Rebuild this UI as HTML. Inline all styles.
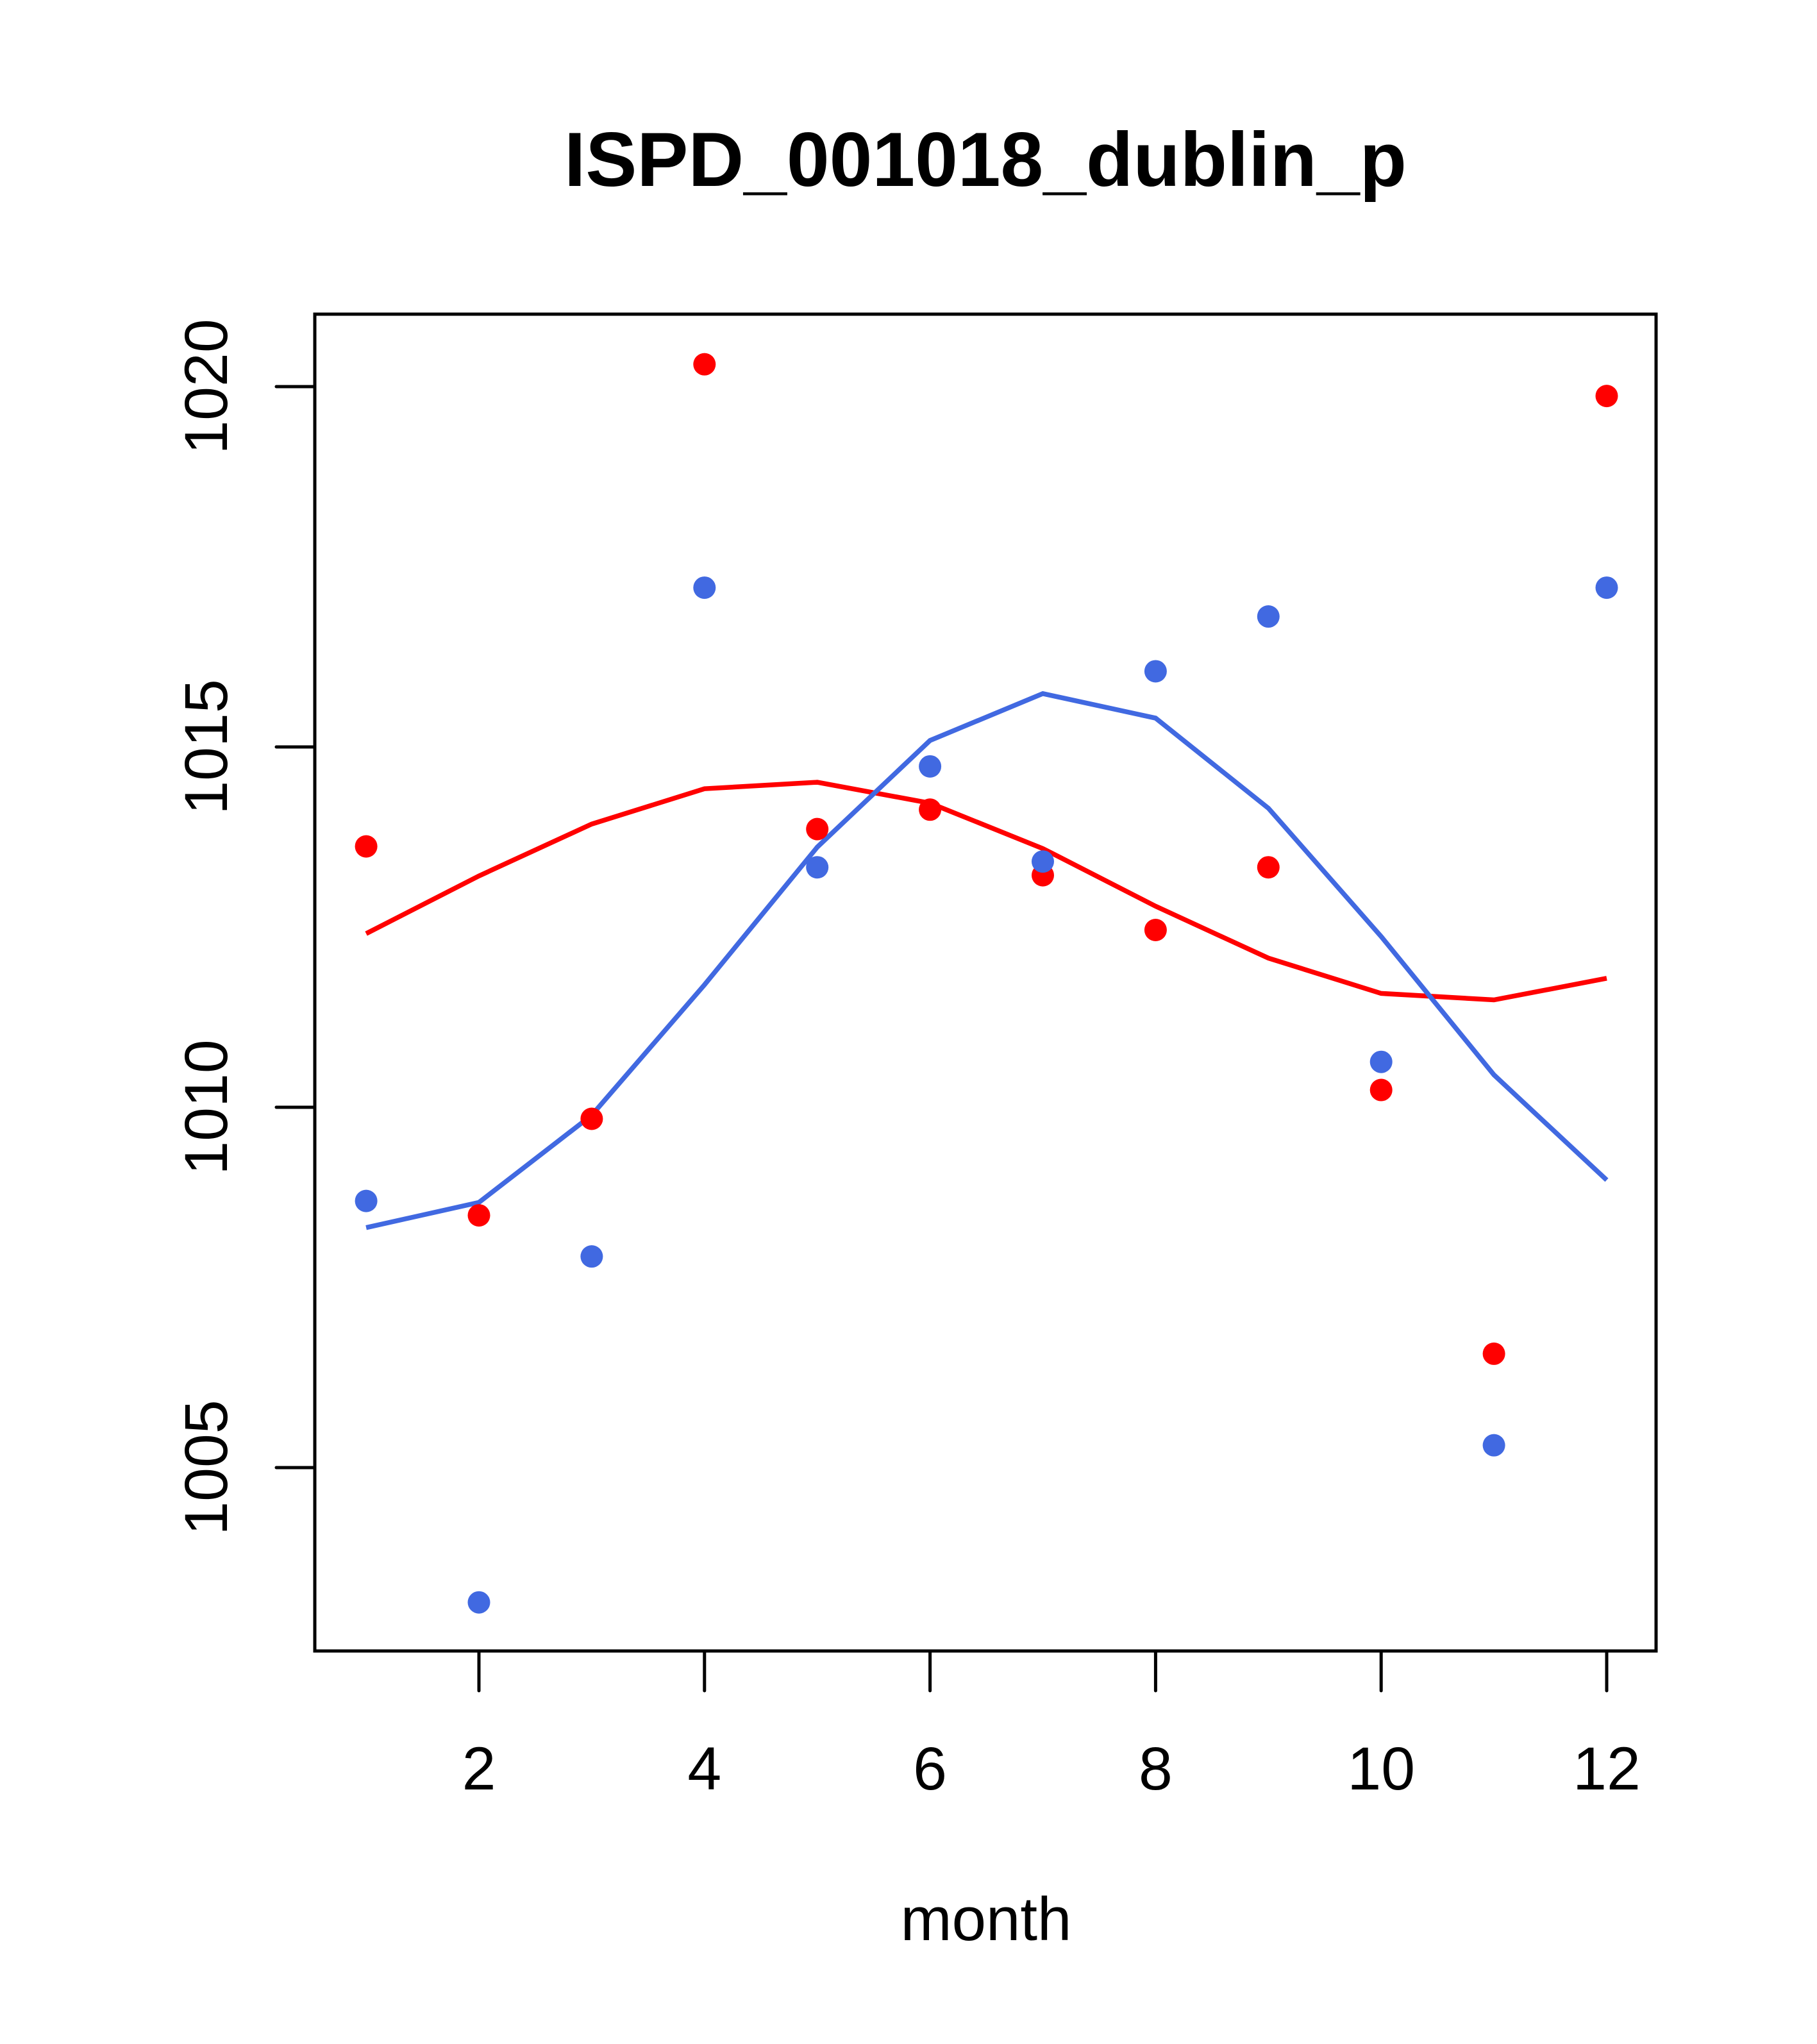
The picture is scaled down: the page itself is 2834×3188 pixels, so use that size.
<!DOCTYPE html>
<html><head><meta charset="utf-8"><style>html,body{margin:0;padding:0;background:#fff}svg{display:block}</style></head>
<body>
<svg id="chart" width="2834" height="3188" viewBox="0 0 2834 3188" xmlns="http://www.w3.org/2000/svg" font-family="Liberation Sans, Arial, sans-serif">
<text x="1537" y="290" font-size="120" font-weight="bold" text-anchor="middle">ISPD_001018_dublin_p</text>
<rect x="491" y="490" width="2092" height="2085" fill="none" stroke="#000" stroke-width="5"/>
<text x="1538" y="3026" font-size="96" text-anchor="middle">month</text>
<g id="xaxis"></g>
<g id="yaxis"></g>
<g id="lines"></g>
<g id="points"></g>
</svg>
<script>
const months = [1,2,3,4,5,6,7,8,9,10,11,12];
const redPoints = [1013.62,1008.50,1009.84,1020.31,1013.86,1014.13,1013.22,1012.46,1013.33,1010.24,1006.58,1019.87];
const bluePoints = [1008.70,1003.13,1007.93,1017.21,1013.33,1014.73,1013.41,1016.05,1016.81,1010.63,1005.31,1017.21];
const redLine = [1012.41,1013.21,1013.93,1014.42,1014.51,1014.22,1013.59,1012.79,1012.07,1011.58,1011.49,1011.79];
const blueLine = [1008.33,1008.68,1009.89,1011.70,1013.61,1015.09,1015.74,1015.40,1014.15,1012.37,1010.45,1008.99];
const xTicks = [2,4,6,8,10,12];
const yTicks = [1005,1010,1015,1020];

const NS = "http://www.w3.org/2000/svg";
function X(m){ return 747 + (m-2)*175.9; }
function Y(v){ return 603 + (1020-v)*112.4; }
function mk(tag, attrs, parent){ const e=document.createElementNS(NS,tag); for(const k in attrs) e.setAttribute(k,attrs[k]); parent.appendChild(e); return e; }

const xg=document.getElementById('xaxis');
xTicks.forEach(t=>{
  const l=mk('line',{x1:X(t),x2:X(t),y1:2575,y2:2637,stroke:'#000','stroke-width':5,'stroke-linecap':'round'},xg);
  
  
  const tx=mk('text',{x:X(t),y:2791,'font-size':95,'text-anchor':'middle'},xg);
  tx.textContent=t;
  
  
});
const yg=document.getElementById('yaxis');
yTicks.forEach(t=>{
  const l=mk('line',{x1:431,x2:491,y1:Y(t),y2:Y(t),stroke:'#000','stroke-width':5,'stroke-linecap':'round'},yg);
  
  
  const tx=mk('text',{x:0,y:0,'font-size':95,'text-anchor':'middle',transform:`translate(354,${Y(t)}) rotate(-90)`},yg);
  tx.textContent=t;
  
  
});
const lg=document.getElementById('lines');
function line(vals,color,name){
  const p=mk('polyline',{points:vals.map((v,i)=>X(months[i])+','+Y(v)).join(' '),fill:'none',stroke:color,'stroke-width':7.5},lg);
  
  
}
line(redLine,'#ff0000','red-line');
line(blueLine,'#4169e1','blue-line');
const pg=document.getElementById('points');
function pts(vals,color,name){
  vals.forEach((v,i)=>{
    const c=mk('circle',{cx:X(months[i]),cy:Y(v),r:17.5,fill:color},pg);
    
    
  });
}
pts(redPoints,'#ff0000','red-point');
pts(bluePoints,'#4169e1','blue-point');
</script>
</body></html>
